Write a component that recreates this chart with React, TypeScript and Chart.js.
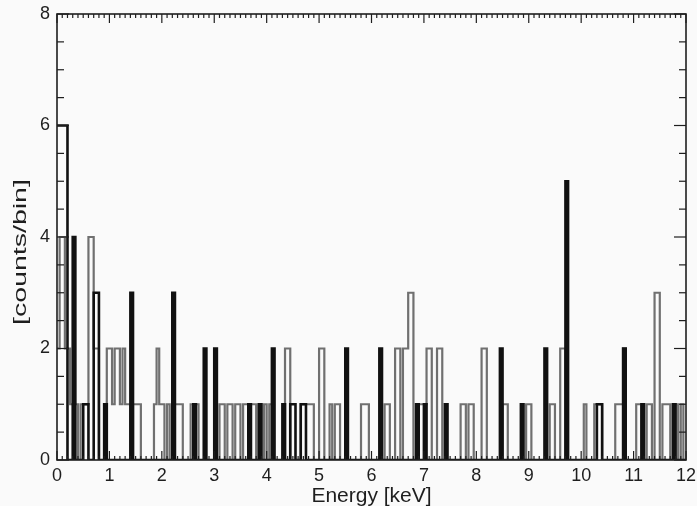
import React, { useEffect, useRef } from "react";
import { Chart, registerables } from "chart.js";

Chart.register(...registerables);

// ---- data (bin ranges in keV and counts per bin) ----
const BIN_WIDTH = 0.05;
const E_MAX = 12;
const Y_MAX = 8;
const X_TICK_STEP = 1;
const Y_TICK_STEP = 2;
const X_MINOR_STEP = 0.1;
const Y_MINOR_STEP = 0.5;

// gray (outlined) spectrum
const grayFrom = [0.0, 0.1, 0.2, 0.3, 0.5, 0.65, 0.75, 1.0, 1.1, 1.15, 1.25, 1.3, 1.35, 1.5, 1.9, 1.95, 2.0, 2.15, 2.3, 2.6, 3.15, 3.3, 3.45, 3.6, 3.75, 3.9, 4.0, 4.1, 4.4, 4.7, 5.05, 5.25, 5.35, 5.85, 6.3, 6.5, 6.65, 6.75, 6.95, 7.1, 7.3, 7.75, 7.9, 8.15, 8.55, 9.0, 9.45, 9.65, 10.1, 10.3, 10.7, 10.85, 11.1, 11.3, 11.45, 11.6, 11.85, 11.95];
const grayTo = [0.1, 0.2, 0.3, 0.45, 0.65, 0.75, 0.85, 1.1, 1.15, 1.25, 1.3, 1.35, 1.45, 1.65, 1.95, 2.0, 2.1, 2.2, 2.45, 2.75, 3.25, 3.4, 3.55, 3.7, 3.85, 3.95, 4.05, 4.15, 4.5, 4.95, 5.15, 5.3, 5.45, 6.0, 6.4, 6.6, 6.75, 6.85, 7.1, 7.2, 7.4, 7.85, 8.0, 8.25, 8.65, 9.1, 9.55, 9.75, 10.15, 10.45, 10.85, 10.9, 11.2, 11.4, 11.55, 11.75, 11.9, 12.0];
const grayCounts = [2, 4, 2, 1, 1, 4, 2, 2, 1, 2, 1, 2, 1, 1, 1, 2, 1, 1, 1, 1, 1, 1, 1, 1, 1, 1, 1, 1, 2, 1, 2, 1, 1, 1, 1, 2, 2, 3, 1, 2, 2, 1, 1, 2, 1, 1, 1, 2, 1, 1, 1, 2, 1, 1, 3, 1, 1, 1];

// black spectrum
const blackFrom = [0.0, 0.35, 0.55, 0.75, 0.95, 1.45, 2.25, 2.65, 2.85, 3.05, 3.7, 3.9, 4.15, 4.35, 4.5, 4.7, 5.55, 6.2, 6.9, 7.05, 7.45, 8.5, 8.9, 9.35, 9.75, 10.35, 10.85, 11.2, 11.8];
const blackTo = [0.25, 0.4, 0.65, 0.85, 1.0, 1.5, 2.3, 2.7, 2.9, 3.1, 3.75, 3.95, 4.2, 4.4, 4.6, 4.8, 5.6, 6.25, 6.95, 7.1, 7.5, 8.55, 8.95, 9.4, 9.8, 10.45, 10.9, 11.25, 11.85];
const blackCounts = [6, 4, 1, 3, 1, 3, 3, 1, 2, 2, 1, 1, 2, 1, 1, 1, 2, 2, 1, 1, 1, 2, 1, 2, 5, 1, 2, 1, 1];

const X_TITLE = "Energy [keV]";
const Y_TITLE = "[counts/bin]";

function buildSteps(from: number[], to: number[], counts: number[]) {
  const n = Math.round(E_MAX / BIN_WIDTH);
  const bins = new Array(n).fill(0);
  for (let k = 0; k < from.length; k++) {
    const a = Math.round(from[k] / BIN_WIDTH);
    const b = Math.round(to[k] / BIN_WIDTH);
    for (let i = a; i < b && i < n; i++) bins[i] = counts[k];
  }
  const pts: { x: number; y: number }[] = [];
  for (let i = 0; i < n; i++) pts.push({ x: +(i * BIN_WIDTH).toFixed(3), y: bins[i] });
  pts.push({ x: E_MAX, y: 0 });
  return pts;
}

const FONT = "'Liberation Sans', Arial, Helvetica, sans-serif";
const INK = "#1e1e1e";

const frameTicks = {
  id: "frameTicks",
  beforeDraw(chart: any) {
    const { ctx } = chart;
    ctx.save();
    ctx.fillStyle = "#fafafa";
    ctx.fillRect(0, 0, chart.width, chart.height);
    ctx.restore();
  },
  afterDraw(chart: any) {
    const { ctx, chartArea: a, scales } = chart;
    const xs = scales.x;
    const ys = scales.y;
    ctx.save();
    ctx.strokeStyle = INK;
    const seg = (x1: number, y1: number, x2: number, y2: number) => {
      ctx.beginPath();
      ctx.moveTo(x1, y1);
      ctx.lineTo(x2, y2);
      ctx.stroke();
    };
    ctx.lineWidth = 1.2;
    const nx = Math.round(E_MAX / X_MINOR_STEP);
    for (let i = 0; i <= nx; i++) {
      const v = i * X_MINOR_STEP;
      const px = xs.getPixelForValue(v);
      const major = i % Math.round(X_TICK_STEP / X_MINOR_STEP) === 0;
      const len = major ? 9 : 4;
      seg(px, a.top, px, a.top + len);
      seg(px, a.bottom, px, a.bottom - len);
    }
    const ny = Math.round(Y_MAX / Y_MINOR_STEP);
    for (let i = 0; i <= ny; i++) {
      const v = i * Y_MINOR_STEP;
      const py = ys.getPixelForValue(v);
      const major = i % Math.round(Y_TICK_STEP / Y_MINOR_STEP) === 0;
      const len = major ? 12 : 7;
      seg(a.left, py, a.left + len, py);
      seg(a.right, py, a.right - len, py);
    }
    ctx.lineWidth = 1.6;
    ctx.strokeRect(a.left, a.top, a.right - a.left, a.bottom - a.top);

    // y axis title, stretched along its length like the reference
    ctx.fillStyle = INK;
    ctx.font = `19px ${FONT}`;
    ctx.textAlign = "center";
    ctx.textBaseline = "middle";
    ctx.translate(21, 252);
    ctx.rotate(-Math.PI / 2);
    ctx.scale(1.5, 1);
    ctx.fillText(Y_TITLE, 0, 0);
    ctx.restore();
  },
};

export default function App() {
  const ref = useRef<HTMLCanvasElement | null>(null);
  useEffect(() => {
    document.body.style.margin = "0";
    document.body.style.background = "#fafafa";
    const canvas = ref.current;
    if (!canvas) return;
    const chart = new Chart(canvas, {
      type: "line",
      data: {
        datasets: [
          {
            label: "black",
            data: buildSteps(blackFrom, blackTo, blackCounts),
            stepped: "after",
            borderColor: "#111111",
            borderWidth: 2.6,
            pointRadius: 0,
            fill: false,
          },
          {
            label: "gray",
            data: buildSteps(grayFrom, grayTo, grayCounts),
            stepped: "after",
            borderColor: "#707070",
            borderWidth: 2.2,
            pointRadius: 0,
            fill: false,
          },
        ],
      },
      options: {
        responsive: false,
        animation: false,
        events: [],
        layout: { padding: { top: 14, right: 11, left: 0, bottom: 0 } },
        plugins: { legend: { display: false }, tooltip: { enabled: false } },
        scales: {
          x: {
            type: "linear",
            min: 0,
            max: E_MAX,
            grid: { display: false, drawTicks: false },
            border: { display: false },
            ticks: {
              stepSize: X_TICK_STEP,
              padding: 5,
              color: INK,
              font: { family: FONT, size: 18 },
              maxRotation: 0,
            },
            title: {
              display: true,
              text: X_TITLE,
              color: INK,
              font: { family: FONT, size: 21, lineHeight: 0.9 },
              padding: { top: 0, bottom: 0 },
            },
            afterFit: (s: any) => {
              s.height = 46;
              s.paddingLeft = 0;
              s.paddingRight = 0;
            },
          },
          y: {
            type: "linear",
            min: 0,
            max: Y_MAX,
            grid: { display: false, drawTicks: false },
            border: { display: false },
            ticks: {
              stepSize: Y_TICK_STEP,
              padding: 7,
              color: INK,
              font: { family: FONT, size: 18 },
            },
            afterFit: (s: any) => {
              s.width = 57;
              s.paddingTop = 0;
              s.paddingBottom = 0;
            },
          },
        },
      },
      plugins: [frameTicks],
    });
    return () => chart.destroy();
  }, []);
  return (
    <div style={{ width: 697, height: 506 }}>
      <canvas ref={ref} width={697} height={506} />
    </div>
  );
}
